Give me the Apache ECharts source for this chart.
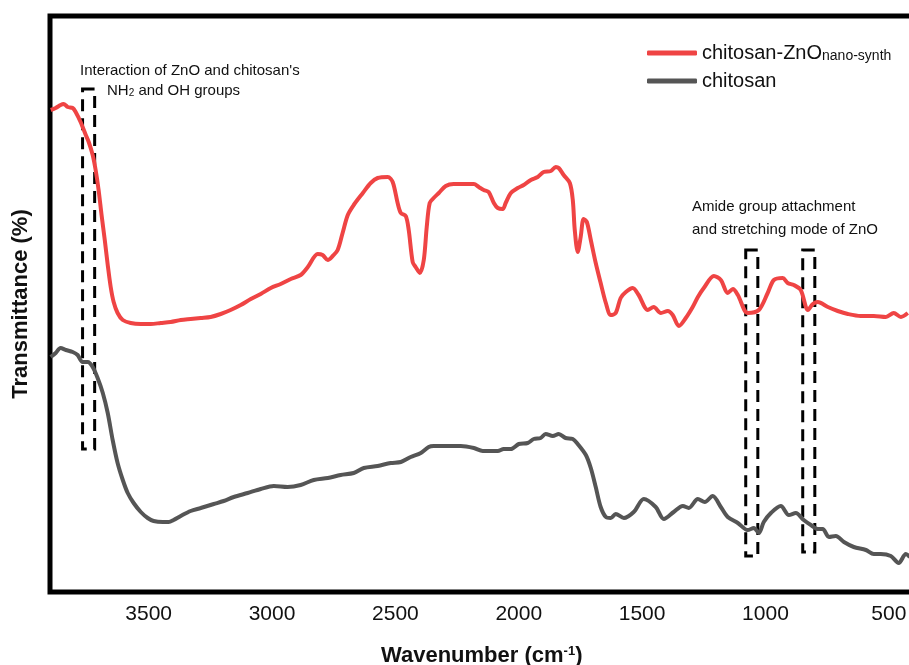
<!DOCTYPE html>
<html><head><meta charset="utf-8">
<script src="https://cdn.jsdelivr.net/npm/echarts@6/dist/echarts.min.js"></script>
<style>html,body{margin:0;padding:0;background:#fff}#c{width:909px;height:665px}</style>
</head><body><div id="c"></div>
<script>
// Tick labels on the wavenumber axis
const tickLabels = [3500, 3000, 2500, 2000, 1500, 1000, 500];

// chitosan-ZnO (nano-synth): wavenumber (cm-1) and transmittance (arb.)
const redWn = [3897,3877,3857,3845,3828,3808,3796,3776,3755,3743,3727,3715,3703,3691,3678,3666,3654,3642,3626,3605,3573,3532,3492,3451,3411,3370,3330,3289,3249,3208,3168,3127,3086,3046,3005,2965,2924,2884,2855,2815,2795,2774,2754,2734,2714,2693,2669,2632,2600,2572,2531,2511,2491,2478,2458,2446,2430,2418,2401,2385,2373,2361,2345,2324,2296,2264,2235,2207,2182,2162,2142,2122,2101,2085,2065,2053,2032,2004,1980,1951,1923,1899,1870,1850,1838,1818,1793,1781,1773,1761,1749,1737,1724,1708,1688,1668,1647,1627,1607,1587,1566,1538,1514,1477,1453,1424,1396,1376,1351,1323,1295,1274,1250,1209,1181,1153,1132,1112,1072,1027,991,966,930,910,885,857,828,808,788,747,707,666,614,561,512,480,451,423];
const redT = [96.4,96.8,97.4,97.6,97.0,96.8,96.0,94.0,91.4,90.0,87.4,84.4,80.4,75.4,70.4,65.4,61.0,58.0,55.8,54.4,53.8,53.6,53.6,53.8,54.0,54.4,54.6,54.8,55.0,55.6,56.4,57.4,58.6,59.6,60.8,61.6,62.6,63.4,65.0,67.6,67.4,66.4,67.2,68.4,71.8,75.4,77.4,79.8,81.8,82.8,83.0,82.0,77.8,75.8,75.2,72.4,66.0,65.0,63.8,66.4,73.0,77.8,78.8,79.8,81.2,81.6,81.6,81.6,81.6,81.0,80.4,80.0,77.8,76.8,76.6,77.8,79.8,80.8,81.4,82.4,83.0,84.0,84.2,85.0,84.8,83.4,81.8,78.4,72.4,68.0,71.0,74.6,74.0,70.4,65.8,61.8,57.8,55.4,55.8,58.8,60.0,60.8,59.4,56.4,57.0,55.8,56.2,55.4,53.2,54.8,57.0,59.0,60.8,63.2,62.4,59.8,60.6,59.4,55.8,56.4,59.8,62.4,62.8,61.8,61.4,60.4,56.4,57.6,58.0,57.0,56.2,55.6,55.2,55.2,55.0,55.8,55.0,55.8];

// chitosan
const grayWn = [3897,3877,3857,3836,3808,3788,3768,3747,3727,3707,3686,3666,3646,3626,3605,3585,3561,3532,3504,3480,3443,3419,3399,3370,3330,3289,3236,3196,3155,3099,3046,2993,2937,2884,2831,2774,2722,2669,2628,2572,2519,2478,2438,2397,2365,2345,2288,2235,2182,2146,2085,2061,2032,2000,1964,1939,1911,1891,1862,1838,1810,1781,1761,1728,1708,1688,1668,1647,1627,1607,1574,1534,1493,1445,1412,1372,1335,1311,1274,1246,1214,1181,1153,1112,1072,1047,1027,1007,978,938,905,877,845,816,788,768,743,715,682,642,593,561,533,492,460,431,415];
const grayT = [47.0,47.8,48.8,48.4,48.0,47.4,46.0,46.0,45.0,42.8,39.8,35.8,30.4,25.8,22.4,19.8,17.8,16.0,14.8,14.2,14.0,14.0,14.4,15.2,16.2,16.8,17.6,18.2,19.0,19.8,20.6,21.2,21.0,21.4,22.4,22.8,23.4,23.8,24.8,25.2,25.8,26.0,27.0,27.8,29.0,29.2,29.2,29.2,28.8,28.2,28.2,28.6,28.6,29.6,29.8,30.6,30.8,31.6,31.2,31.6,30.8,30.6,29.6,27.4,24.8,21.0,17.0,15.0,14.8,15.6,14.8,16.0,18.6,17.0,14.6,16.0,17.2,16.8,18.6,18.0,19.2,17.0,15.0,13.8,12.4,12.8,11.8,14.0,15.8,17.2,15.4,15.8,14.4,13.4,12.6,12.6,11.0,11.2,10.0,9.0,8.4,7.6,7.6,7.2,5.8,7.6,7.0];

// Dashed annotation boxes: [wnStart, tTop, wnEnd, tBottom]
const boxes = [[3768,100.6,3719,28.6],[1080,68.4,1031,7.2],[849,68.4,800,8.0]];

const zip = (a, b) => a.map((v, i) => [v, b[i]]);
const FONT = "'Liberation Sans', Arial, sans-serif";

const chart = echarts.init(document.getElementById('c'));
chart.setOption({
  animation: false,
  backgroundColor: '#fff',
  grid: { left: 50, top: 16, width: 863.5, height: 576, show: true, borderColor: '#000', borderWidth: 5,
    backgroundColor: 'transparent', containLabel: false, outerBoundsMode: 'none' },
  xAxis: {
    type: 'value', inverse: true, min: 400, max: 3900, interval: 100,
    axisLine: { show: false }, axisTick: { show: false }, splitLine: { show: false },
    axisLabel: { formatter: v => tickLabels.includes(v) ? String(v) : '', fontSize: 21, color: '#111', margin: 12, fontFamily: FONT },
    name: 'Wavenumber (cm{sup|-1})', nameLocation: 'middle', nameGap: 53,
    nameTextStyle: { fontSize: 22, fontWeight: 'bold', color: '#111', fontFamily: FONT,
      rich: { sup: { fontSize: 13, fontWeight: 'bold', verticalAlign: 'top', color: '#111', fontFamily: FONT } } }
  },
  yAxis: {
    type: 'value', min: 0, max: 115.2,
    axisLine: { show: false }, axisTick: { show: false }, axisLabel: { show: false }, splitLine: { show: false },
    name: 'Transmittance (%)', nameLocation: 'middle', nameGap: 18,
    nameTextStyle: { fontSize: 22, fontWeight: 'bold', color: '#111', fontFamily: FONT }
  },
  legend: {
    left: 642, top: 38, orient: 'vertical', itemWidth: 50, itemHeight: 5, itemGap: 8, icon: 'roundRect',
    data: ['chitosan-ZnO', 'chitosan'],
    formatter: n => n === 'chitosan-ZnO' ? 'chitosan-ZnO{sub|nano-synth}' : n,
    textStyle: { fontSize: 20, color: '#111', fontFamily: FONT,
      rich: { sub: { fontSize: 14, verticalAlign: 'bottom', color: '#111', fontFamily: FONT } } }
  },
  series: [
    {
      name: 'chitosan-ZnO', type: 'line', data: zip(redWn, redT), showSymbol: false, symbol: 'none',
      smooth: 0.3, lineStyle: { color: '#ef4444', width: 4 }, itemStyle: { color: '#ef4444' }, z: 3,
      markArea: {
        silent: true,
        itemStyle: { color: 'rgba(0,0,0,0)', borderColor: '#000', borderWidth: 3, borderType: [12, 7] },
        data: boxes.map(b => [{ coord: [b[0], b[1]] }, { coord: [b[2], b[3]] }])
      }
    },
    {
      name: 'chitosan', type: 'line', data: zip(grayWn, grayT), showSymbol: false, symbol: 'none',
      smooth: 0.3, lineStyle: { color: '#555555', width: 4 }, itemStyle: { color: '#555555' }, z: 3
    }
  ],
  graphic: [
    { type: 'text', left: 80, top: 63, style: { text: "Interaction of ZnO and chitosan's", fontSize: 15, fontFamily: FONT, fill: '#111' } },
    { type: 'text', left: 107, top: 83, style: { text: 'NH{s|2} and OH groups', fontSize: 15, fontFamily: FONT, fill: '#111',
      rich: { s: { fontSize: 10, verticalAlign: 'bottom', fontFamily: FONT, fill: '#111' } } } },
    { type: 'text', left: 692, top: 199, style: { text: 'Amide group attachment', fontSize: 15, fontFamily: FONT, fill: '#111' } },
    { type: 'text', left: 692, top: 222, style: { text: 'and stretching mode of ZnO', fontSize: 15, fontFamily: FONT, fill: '#111' } }
  ]
});
</script>
</body></html>
